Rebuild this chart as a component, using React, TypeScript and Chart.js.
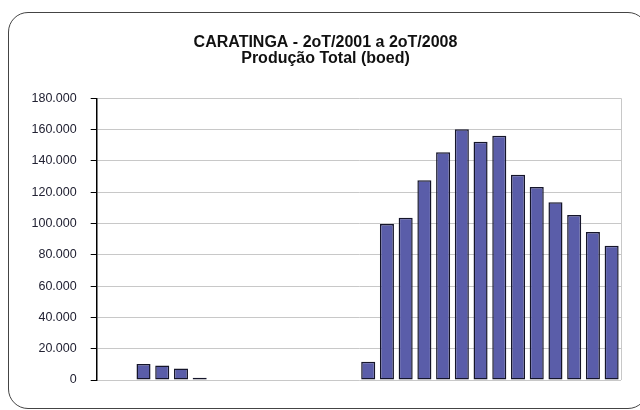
import React, { useEffect, useRef } from "react";
import { Chart, registerables } from "chart.js";

Chart.register(...registerables);

const TITLE_LINES = ["CARATINGA - 2oT/2001 a 2oT/2008", "Produção Total (boed)"];

const QUARTERS = [
  "3oT/2001", "4oT/2001",
  "1oT/2002", "2oT/2002", "3oT/2002", "4oT/2002",
  "1oT/2003", "2oT/2003", "3oT/2003", "4oT/2003",
  "1oT/2004", "2oT/2004", "3oT/2004", "4oT/2004",
  "1oT/2005", "2oT/2005", "3oT/2005", "4oT/2005",
  "1oT/2006", "2oT/2006", "3oT/2006", "4oT/2006",
  "1oT/2007", "2oT/2007", "3oT/2007", "4oT/2007",
  "1oT/2008", "2oT/2008",
];

const PRODUCTION_BOED = [
  null, null, 10200, 9200, 7300, 1500,
  null, null, null, null, null, null, null, null,
  11700, 99700, 103700, 127600, 145500, 160200, 152300, 156100,
  131200, 123300, 113500, 105400, 94600, 85800,
];

const Y_MIN = 0;
const Y_MAX = 180000;
const Y_STEP = 20000;

const FONT = "'Liberation Sans', Arial, Helvetica, sans-serif";

function fmt(v: number): string {
  return Math.round(v).toString().replace(/\B(?=(\d{3})+(?!\d))/g, ".");
}

const rightEdgePlugin = {
  id: "rightEdge",
  beforeDatasetsDraw(chart: any) {
    const { ctx, chartArea } = chart;
    ctx.save();
    ctx.strokeStyle = "#c8c8c8";
    ctx.lineWidth = 1;
    ctx.beginPath();
    ctx.moveTo(Math.round(chartArea.right) + 0.5, chartArea.top);
    ctx.lineTo(Math.round(chartArea.right) + 0.5, chartArea.bottom);
    ctx.stroke();
    ctx.restore();
  },
};

export default function App() {
  const ref = useRef<HTMLCanvasElement>(null);

  useEffect(() => {
    if (!ref.current) return;
    const chart = new Chart(ref.current, {
      type: "bar",
      data: {
        labels: QUARTERS,
        datasets: [
          {
            label: "Produção Total (boed)",
            data: PRODUCTION_BOED as any,
            backgroundColor: "#5A5DA9",
            borderColor: "#15152a",
            borderWidth: 1.5,
            borderSkipped: false,
            categoryPercentage: 1,
            barPercentage: 0.75,
          },
        ],
      },
      options: {
        animation: false,
        responsive: false,
        maintainAspectRatio: false,
        layout: { padding: { left: 30, right: 19, top: 0, bottom: 30 } },
        plugins: {
          legend: { display: false },
          tooltip: { enabled: false },
          title: {
            display: true,
            text: TITLE_LINES,
            color: "#111",
            font: { family: FONT, size: 16, weight: "bold", lineHeight: 1.04 },
            padding: { top: 34, bottom: 31 },
          },
        },
        scales: {
          x: {
            display: false,
            grid: { display: false },
          },
          y: {
            min: Y_MIN,
            max: Y_MAX,
            afterFit(scale: any) {
              scale.width = 66.7;
            },
            ticks: {
              stepSize: Y_STEP,
              padding: 14,
              color: "#222233",
              font: { family: FONT, size: 12.5 },
              callback: (v: any) => fmt(Number(v)),
            },
            grid: {
              color: "#c8c8c8",
              lineWidth: 1,
              tickLength: 6,
              tickColor: "#000",
              drawTicks: true,
            },
            border: { display: true, color: "#000", width: 1.5 },
          },
        },
      },
      plugins: [rightEdgePlugin],
    });
    return () => chart.destroy();
  }, []);

  return (
    <div
      style={{
        position: "fixed",
        left: 0,
        top: 0,
        width: 640,
        height: 410,
        overflow: "hidden",
        background: "#fff",
      }}
    >
      <div
        style={{
          position: "absolute",
          left: 8,
          top: 12,
          width: 640,
          height: 397,
          border: "1.5px solid #444",
          borderRadius: 20,
          boxSizing: "border-box",
        }}
      />
      <canvas
        ref={ref}
        width={640}
        height={410}
        style={{ position: "absolute", left: 0, top: 0, width: 640, height: 410 }}
      />
    </div>
  );
}
